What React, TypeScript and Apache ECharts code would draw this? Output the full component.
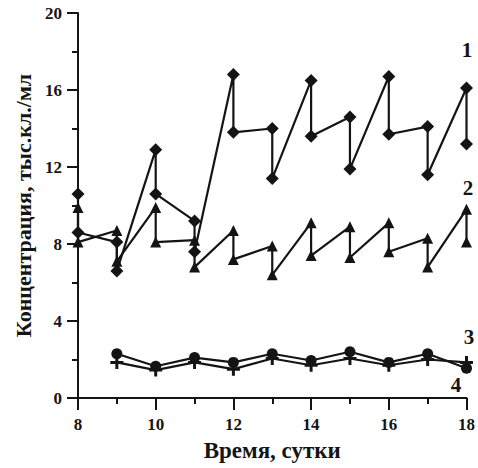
import React, { useEffect, useRef } from "react";
import * as echarts from "echarts";

// Days with two measurements each (series 1 and 2)
const days = [8, 9, 10, 11, 12, 13, 14, 15, 16, 17, 18];
const s1First = [10.6, 8.1, 12.9, 9.2, 16.8, 14.0, 16.5, 14.6, 16.7, 14.1, 16.1];
const s1Second = [8.6, 6.6, 10.6, 7.6, 13.8, 11.4, 13.6, 11.9, 13.7, 11.6, 13.2];
const s2First = [9.9, 8.7, 9.9, 8.2, 8.7, 7.9, 9.1, 8.9, 9.1, 8.3, 9.8];
const s2Second = [8.1, 7.1, 8.1, 6.8, 7.2, 6.4, 7.4, 7.3, 7.6, 6.8, 8.1];

// Series 3 and 4: one value per day
const days34 = [9, 10, 11, 12, 13, 14, 15, 16, 17, 18];
const s3 = [2.3, 1.65, 2.1, 1.85, 2.3, 1.95, 2.4, 1.85, 2.3, 1.55];
const s4 = [1.85, 1.45, 1.85, 1.5, 2.05, 1.7, 2.05, 1.7, 2.0, 1.85];

const seriesLabels = ["1", "2", "3", "4"];
const xTitle = "Время, сутки";
const yTitle = "Концентрация, тыс.кл./мл";

const FONT = '"Liberation Serif", "Times New Roman", serif';
const INK = "#141414";

function pairs(xs: number[], a: number[], b: number[]) {
  const out: number[][] = [];
  xs.forEach((x, i) => {
    out.push([x, a[i]]);
    out.push([x, b[i]]);
  });
  return out;
}

const PLUS = "path://M5,0H8V5H13V8H8V13H5V8H0V5H5Z";

export default function App() {
  const ref = useRef<HTMLDivElement>(null);
  useEffect(() => {
    if (!ref.current) return;
    const chart = echarts.init(ref.current, undefined, { renderer: "svg" });
    const lineStyle = { color: INK, width: 2.2 };
    const base = {
      type: "line" as const,
      lineStyle,
      itemStyle: { color: INK },
      silent: true,
    };
    chart.setOption({
      animation: false,
      backgroundColor: "#ffffff",
      grid: { left: 78, right: 10, top: 13, bottom: 70 },
      xAxis: {
        type: "value",
        min: 8,
        max: 18,
        interval: 2,
        axisLine: { show: true, onZero: false, lineStyle: { color: INK, width: 2 } },
        axisTick: { show: true, length: 12, lineStyle: { color: INK, width: 2 } },
        minorTick: { show: true, splitNumber: 2, length: 6, lineStyle: { color: INK, width: 2 } },
        splitLine: { show: false },
        axisLabel: {
          color: INK,
          fontFamily: FONT,
          fontWeight: "bold",
          fontSize: 17,
          margin: 18,
        },
        name: xTitle,
        nameLocation: "middle",
        nameGap: 41,
        nameTextStyle: { color: INK, fontFamily: FONT, fontWeight: "bold", fontSize: 23 },
      },
      yAxis: {
        type: "value",
        min: 0,
        max: 20,
        interval: 4,
        axisLine: { show: true, onZero: false, lineStyle: { color: INK, width: 2 } },
        axisTick: { show: true, length: 11, lineStyle: { color: INK, width: 2 } },
        minorTick: { show: true, splitNumber: 2, length: 6, lineStyle: { color: INK, width: 2 } },
        splitLine: { show: false },
        axisLabel: {
          color: INK,
          fontFamily: FONT,
          fontWeight: "bold",
          fontSize: 17,
          margin: 16,
        },
        name: yTitle,
        nameLocation: "middle",
        nameGap: 40,
        nameTextStyle: { color: INK, fontFamily: FONT, fontWeight: "bold", fontSize: 22 },
      },
      series: [
        { ...base, name: "3", data: days34.map((d, i) => [d, s3[i]]), symbol: "circle", symbolSize: 11 },
        { ...base, name: "4", data: days34.map((d, i) => [d, s4[i]]), symbol: PLUS, symbolSize: 13 },
        { ...base, name: "2", data: pairs(days, s2First, s2Second), symbol: "triangle", symbolSize: 11 },
        { ...base, name: "1", data: pairs(days, s1First, s1Second), symbol: "diamond", symbolSize: 13 },
      ],
      graphic: [
        { pos: [467, 50], t: seriesLabels[0] },
        { pos: [468, 188], t: seriesLabels[1] },
        { pos: [469, 337], t: seriesLabels[2] },
        { pos: [456, 385], t: seriesLabels[3] },
      ].map((g) => ({
        type: "text",
        x: g.pos[0],
        y: g.pos[1],
        silent: true,
        style: {
          text: g.t,
          fill: INK,
          fontFamily: FONT,
          fontWeight: "bold",
          fontSize: 21,
          align: "center",
          verticalAlign: "middle",
        },
      })),
    });
    return () => chart.dispose();
  }, []);
  return (
    <div
      ref={ref}
      style={{ position: "absolute", left: 0, top: 0, width: 478, height: 468, background: "#fff" }}
    />
  );
}
